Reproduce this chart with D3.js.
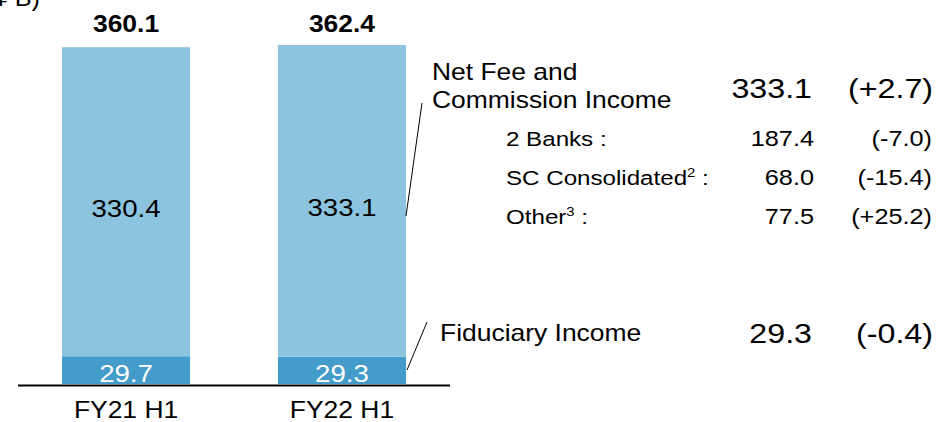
<!DOCTYPE html>
<html><head><meta charset="utf-8">
<script src="https://cdn.jsdelivr.net/npm/d3@7"></script>
<style>body{margin:0;background:#fff}svg{display:block;font-family:"Liberation Sans",Arial,sans-serif}</style>
</head><body><div id="c"></div>
<script>
const categories = ["FY21 H1", "FY22 H1"];
const fiduciary = [29.7, 29.3];
const netFee = [330.4, 333.1];
const totals = [360.1, 362.4];
const unitLabel = "(¥ B)";
const mainLabels = [["Net Fee and", "Commission Income"], ["Fiduciary Income"]];
const mainValues = ["333.1", "29.3"];
const mainChanges = ["(+2.7)", "(-0.4)"];
const subLabels = ["2 Banks", "SC Consolidated", "Other"];
const subSup = ["", "2", "3"];
const subValues = ["187.4", "68.0", "77.5"];
const subChanges = ["(-7.0)", "(-15.4)", "(+25.2)"];

const W = 937, H = 422, SX = 1.15;
const svg = d3.select("#c").append("svg").attr("width", W).attr("height", H);
const x = d3.scaleBand().domain(categories).range([62, 406]).paddingInner(0.407).paddingOuter(0);
const y = d3.scaleLinear().domain([0, 362.4]).range([384, 45]);
const lightC = "#8cc4df", darkC = "#439cc9";

function stext(px, py, anchor, size, txt, opts = {}) {
  const t = svg.append("text")
    .attr("transform", `translate(${px},${py}) scale(${SX},1)`)
    .attr("text-anchor", anchor).attr("font-size", size)
    .attr("fill", opts.fill || "#000");
  if (opts.weight) t.attr("font-weight", opts.weight);
  t.text(txt);
  return t;
}

const data = categories.map((c, i) => ({c, f: fiduciary[i], n: netFee[i], t: totals[i]}));
svg.selectAll(".fid").data(data).join("rect").attr("class", "fid")
  .attr("x", d => x(d.c)).attr("width", x.bandwidth())
  .attr("y", d => y(d.f)).attr("height", d => y(0) - y(d.f)).attr("fill", darkC);
svg.selectAll(".nf").data(data).join("rect").attr("class", "nf")
  .attr("x", d => x(d.c)).attr("width", x.bandwidth())
  .attr("y", d => y(d.t)).attr("height", d => y(d.f) - y(d.t)).attr("fill", lightC);

svg.append("line").attr("x1", 18).attr("x2", 450).attr("y1", 385.5).attr("y2", 385.5)
  .attr("stroke", "#000").attr("stroke-width", 2);

data.forEach(d => {
  const cx = x(d.c) + x.bandwidth() / 2;
  stext(cx, 382, "middle", 24, d.f.toFixed(1), {fill: "#fff"});
  stext(cx, (y(d.t) + y(d.f)) / 2 + 15, "middle", 24, d.n.toFixed(1));
  stext(cx, 32, "middle", 23, d.t.toFixed(1), {weight: "bold"});
  stext(cx, 418, "middle", 23, d.c);
});

stext(40, 6, "end", 22, unitLabel);

svg.append("line").attr("x1", 406).attr("y1", 216).attr("x2", 422).attr("y2", 103).attr("stroke", "#000").attr("stroke-width", 1);
svg.append("line").attr("x1", 407).attr("y1", 370).attr("x2", 427).attr("y2", 322).attr("stroke", "#000").attr("stroke-width", 1);

stext(432, 80, "start", 23, mainLabels[0][0]);
stext(432, 108, "start", 23, mainLabels[0][1]);
stext(812, 98, "end", 28, mainValues[0]);
stext(933, 98, "end", 28, mainChanges[0]);

stext(440, 341, "start", 23, mainLabels[1][0]);
stext(812, 343, "end", 28, mainValues[1]);
stext(933, 343, "end", 28, mainChanges[1]);

const subY = [146, 185, 224];
subLabels.forEach((l, i) => {
  const t = stext(506, subY[i], "start", 21, "");
  t.append("tspan").text(l);
  if (subSup[i]) t.append("tspan").attr("font-size", 13).attr("dy", -8).text(subSup[i]);
  t.append("tspan").attr("dy", subSup[i] ? 8 : 0).text(" :");
  stext(814, subY[i], "end", 22, subValues[i]);
  stext(932, subY[i], "end", 22, subChanges[i]);
});
</script></body></html>
